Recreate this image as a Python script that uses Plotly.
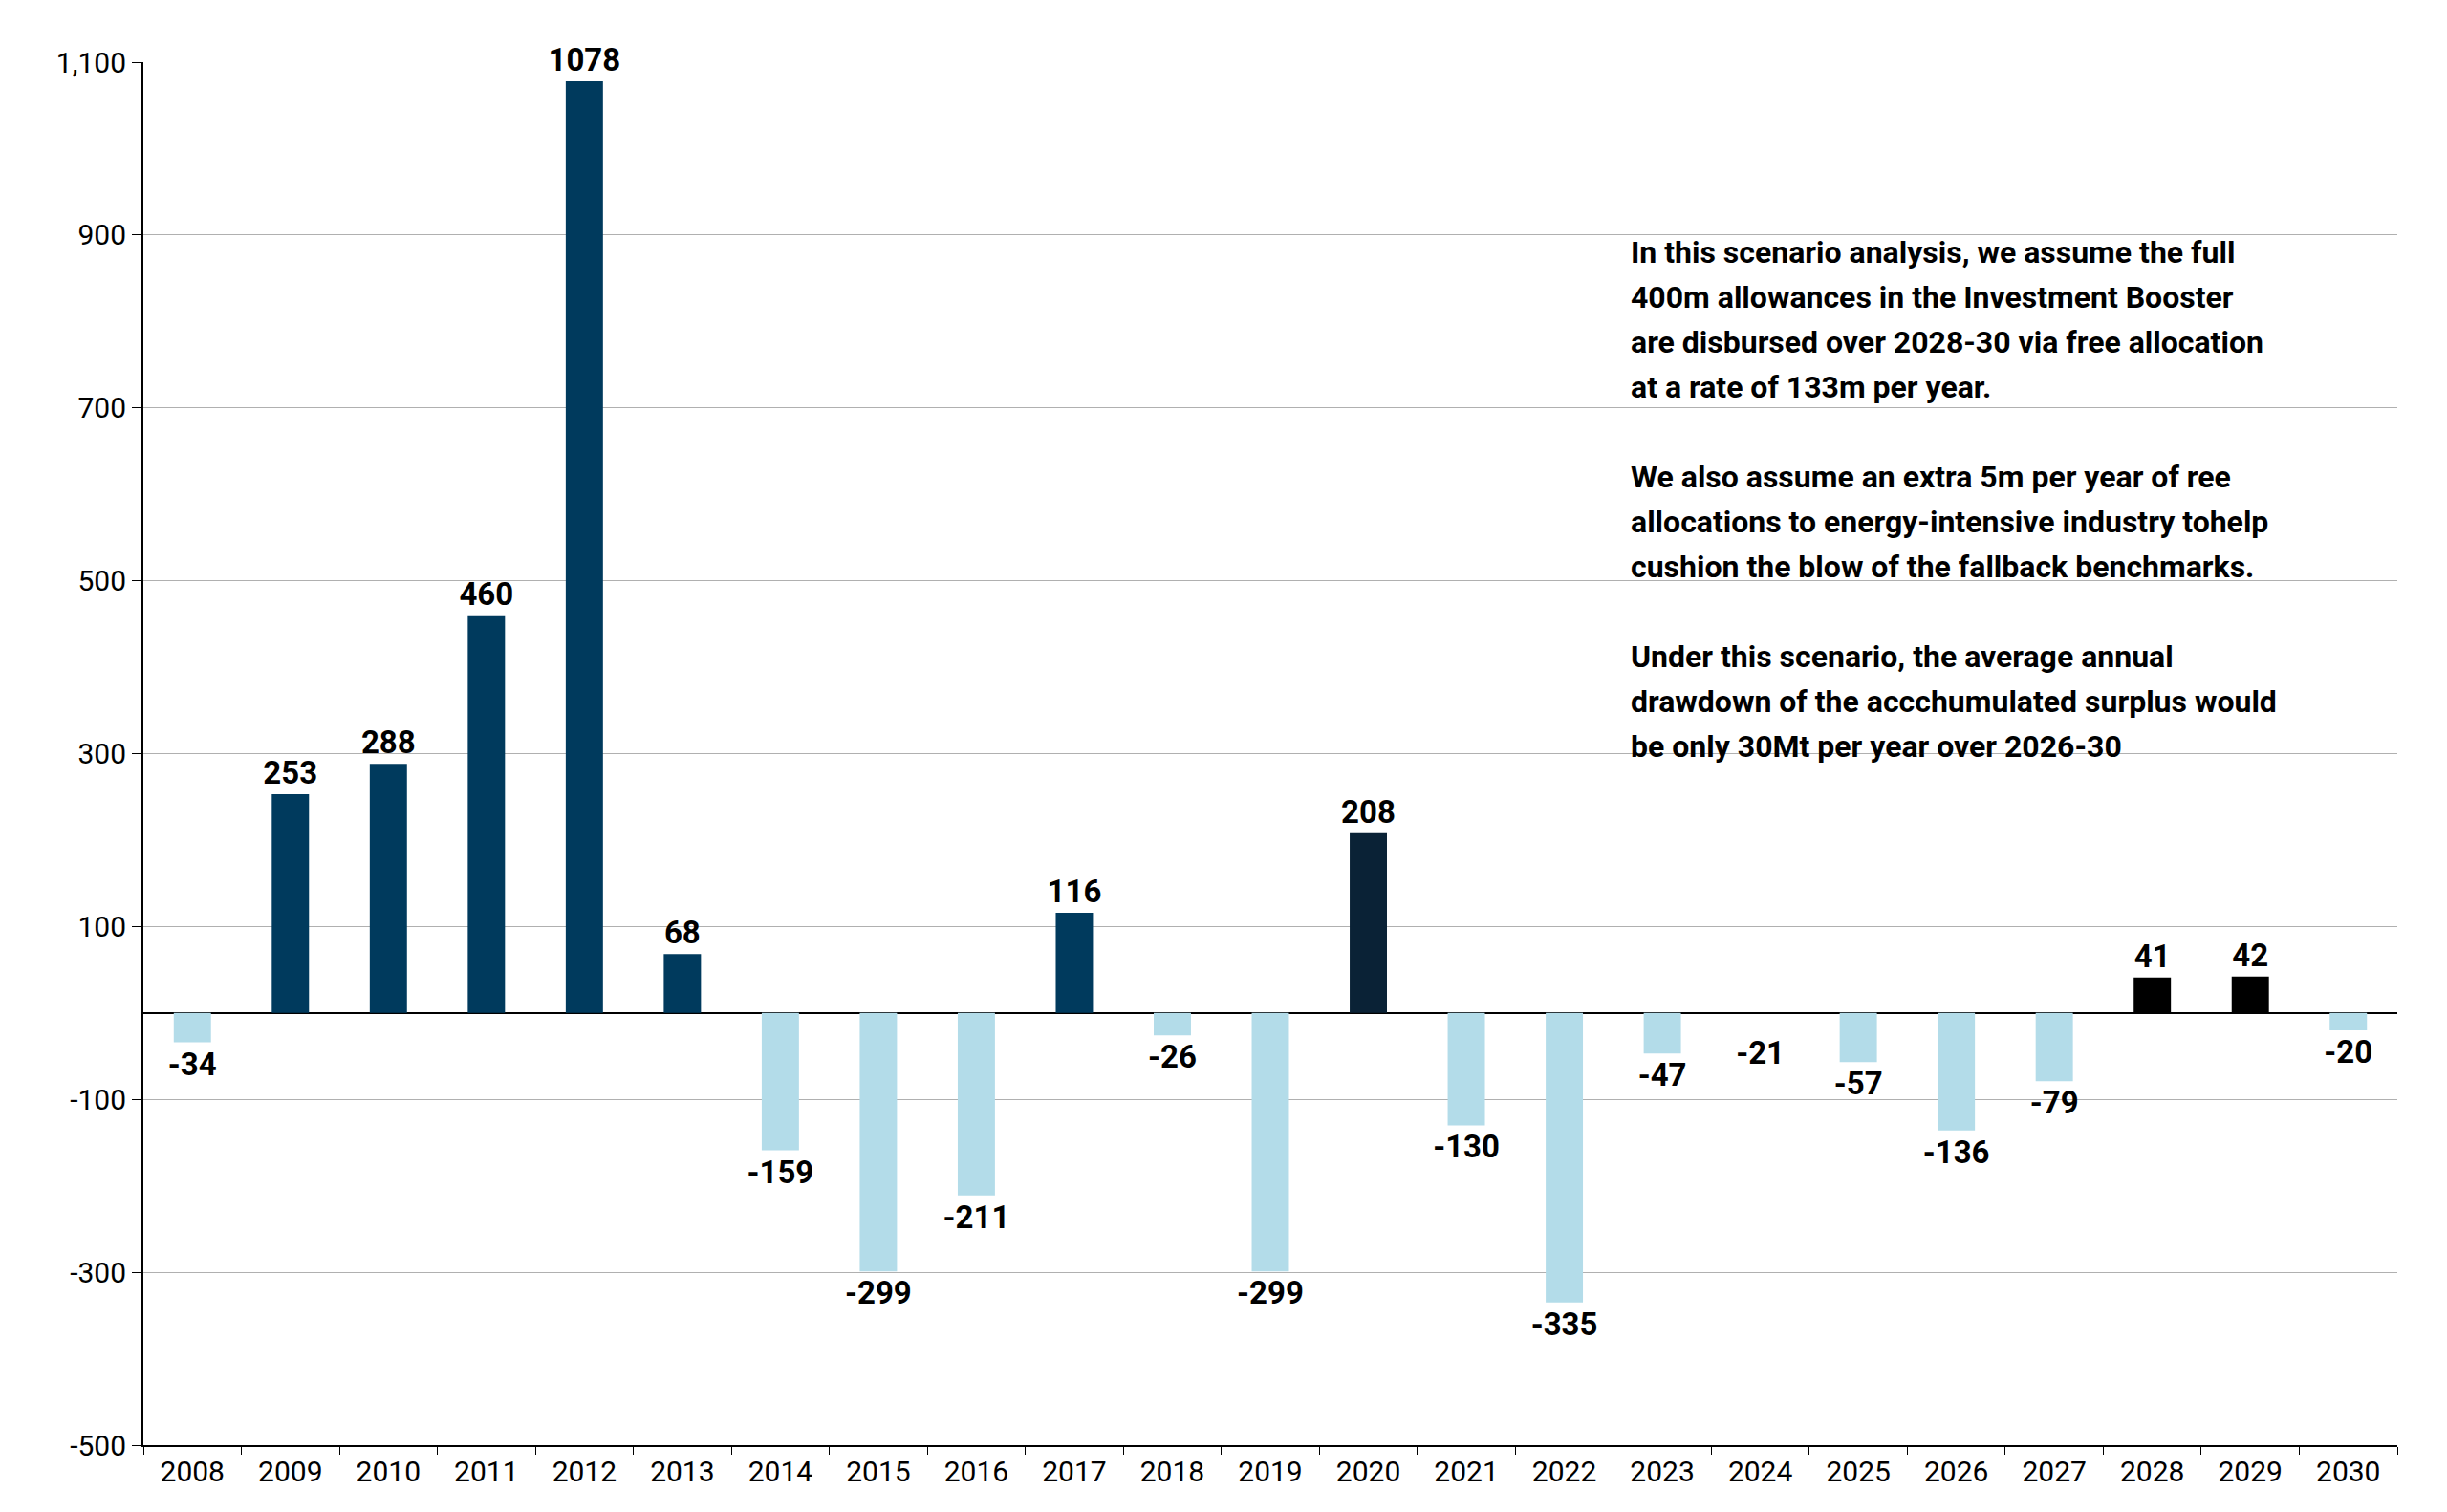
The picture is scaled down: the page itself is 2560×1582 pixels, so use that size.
import plotly.graph_objects as go

years = [str(y) for y in range(2008, 2031)]
values = [-34, 253, 288, 460, 1078, 68, -159, -299, -211, 116, -26, -299, 208,
          -130, -335, -47, -21, -57, -136, -79, 41, 42, -20]
y_ticks = list(range(-500, 1101, 200))
y_labels = ['-500', '-300', '-100', '100', '300', '500', '700', '900', '1,100']

note_lines = [
    "In this scenario analysis, we assume the full",
    "400m allowances in the Investment Booster",
    "are disbursed over 2028-30 via free allocation",
    "at a rate of 133m per year.",
    "",
    "We also assume an extra 5m per year of ree",
    "allocations to energy-intensive industry tohelp",
    "cushion the blow of the fallback benchmarks.",
    "",
    "Under this scenario, the average annual",
    "drawdown of the accchumulated surplus would",
    "be only 30Mt per year over 2026-30",
]

DARK = '#003a5d'
LIGHT = '#b3dce9'
colors = []
for y, v in zip(years, values):
    if y == '2020':
        colors.append('#0a2236')
    elif y in ('2028', '2029'):
        colors.append('#000000')
    elif y == '2024':
        colors.append('rgba(0,0,0,0)')
    elif v > 0:
        colors.append(DARK)
    else:
        colors.append(LIGHT)

fig = go.Figure(go.Bar(
    x=years, y=values, marker_color=colors, marker_line_width=0,
    text=[str(v) for v in values], textposition='outside', cliponaxis=False,
    constraintext='none',
    textfont=dict(size=33, color='black', family='Roboto', weight='bold'),
))

# white box behind the note (hides gridlines)
fig.add_shape(type='rect', xref='paper', yref='y', x0=0.655, x1=0.96, y0=285, y1=905,
              fillcolor='white', line_width=0, layer='between')
for i, line in enumerate(note_lines):
    if not line:
        continue
    fig.add_annotation(x=0.659, xref='paper', y=880 - i * 52, yref='y',
                       xanchor='left', yanchor='middle', text=line, showarrow=False,
                       font=dict(size=32, color='black', family='Roboto', weight='bold'))

fig.update_layout(
    width=2560, height=1582,
    margin=dict(l=142, r=60, t=57, b=78),
    plot_bgcolor='white', paper_bgcolor='white',
    bargap=0.62, showlegend=False,
    font=dict(family='Roboto', size=30, color='black'),
)
fig.update_yaxes(range=[-500, 1100], tickvals=y_ticks, ticktext=y_labels,
                 showgrid=True, gridcolor='#b0b0b0', gridwidth=1,
                 showline=True, linecolor='black', linewidth=2,
                 ticks='outside', ticklen=10, tickcolor='black',
                 zeroline=True, zerolinecolor='black', zerolinewidth=2)
fig.update_xaxes(showline=True, linecolor='black', linewidth=2, tickson='boundaries',
                 ticks='outside', ticklen=8, tickcolor='black', showgrid=False)

fig.write_html("out.html")
